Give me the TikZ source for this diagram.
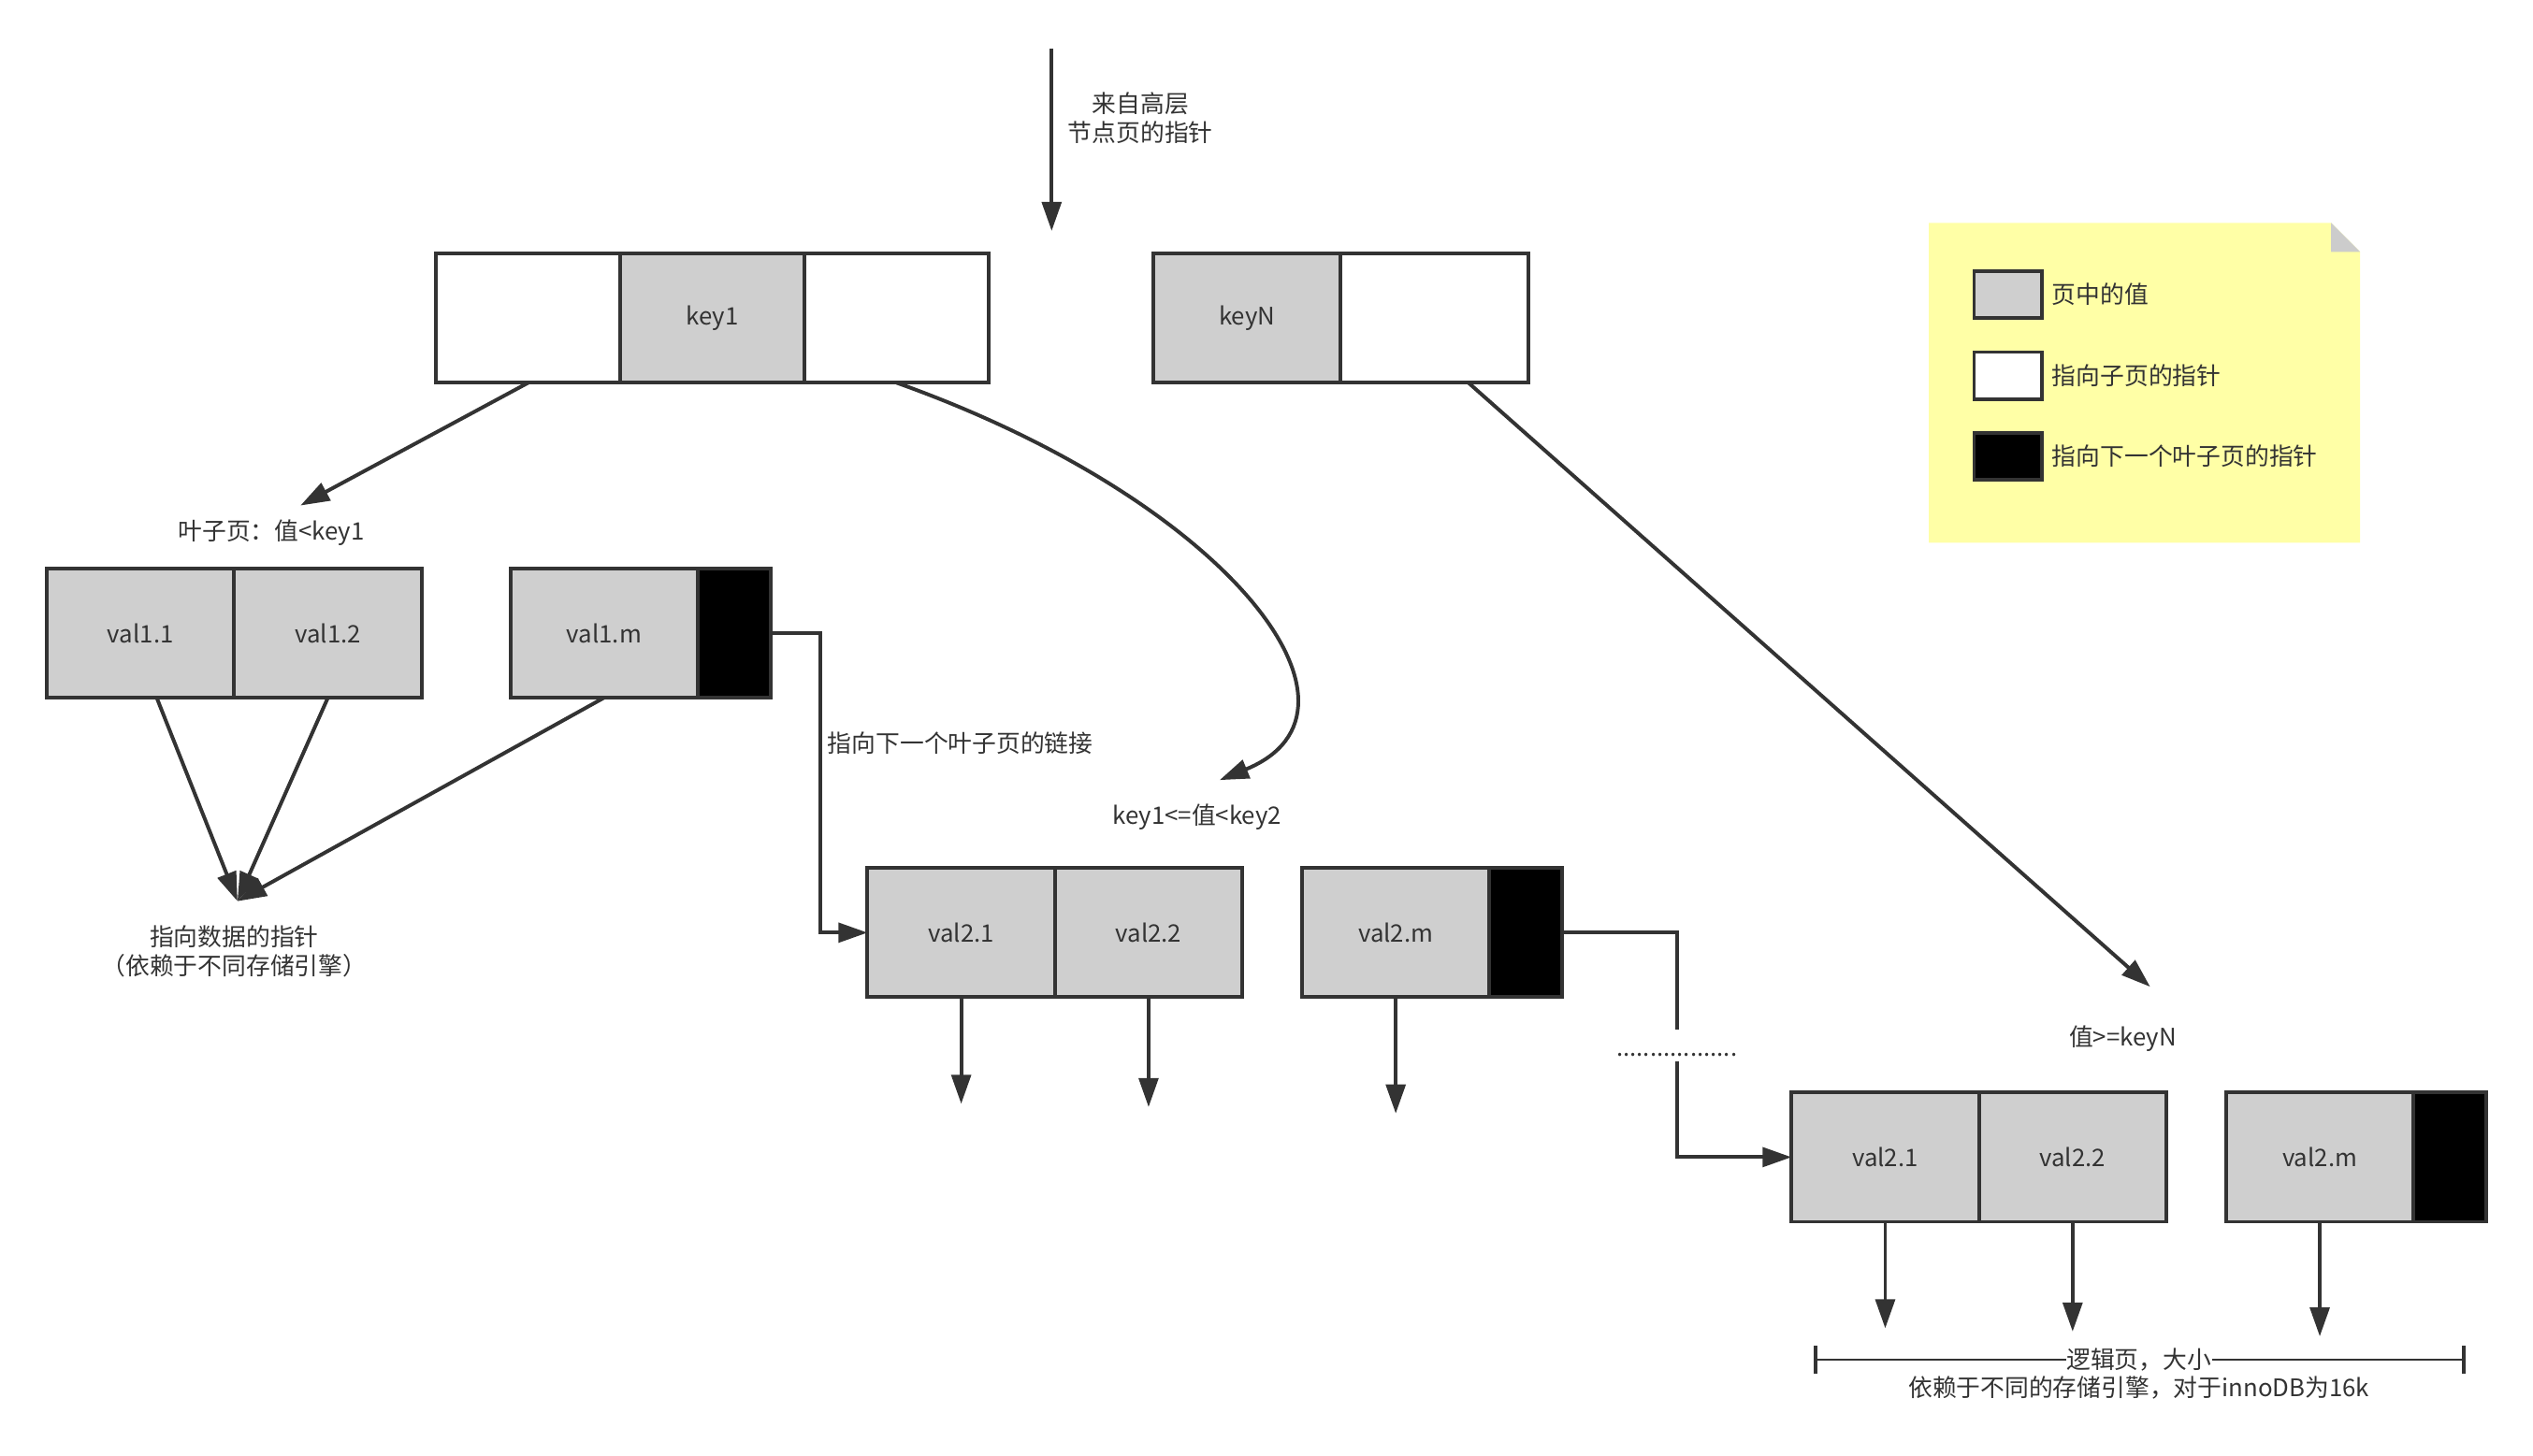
\documentclass[tikz,border=0pt]{standalone}
\usepackage{fontspec}
\setmainfont{Noto Sans CJK SC}
\usetikzlibrary{arrows.meta,positioning}
\definecolor{inkc}{HTML}{333333}
\definecolor{valgray}{HTML}{CFCFCF}
\definecolor{notey}{HTML}{FFFFA6}
\definecolor{foldg}{HTML}{CCCCCC}
\begin{document}
\begin{tikzpicture}[x=0.02cm,y=-0.02cm,
    font=\fontsize{8.5pt}{10.2pt}\selectfont,
    cell/.style={draw=inkc,line width=1.3pt,fill=valgray,text=inkc,
        minimum width=2.32cm,minimum height=1.6cm,inner sep=0pt,outer sep=0pt},
    ptr/.style={cell,fill=white},
    nxt/.style={cell,fill=black,minimum width=0.9cm},
    lgbox/.style={cell,minimum width=0.84cm,minimum height=0.58cm},
    lbl/.style={text=inkc,align=center,inner sep=0pt},
    conn/.style={draw=inkc,line width=1.3pt},
    arr/.style={conn,-{Triangle[length=0.36cm,width=0.24cm]}},
    dim/.style={draw=inkc,line width=0.5pt,{Bar[width=0.34cm,line width=1pt]}-}]
\useasboundingbox (0,0) rectangle (1568,901);

% Pointer from the upper level
\coordinate (hiS) at (651,30);
\coordinate (hiE) at (651,143);
\draw[arr] (hiS) -- (hiE);
\node[lbl] (hi) at (706,73) {来自高层\\节点页的指针};

% Non-leaf page
\node[ptr,minimum width=2.28cm] (k1L) at (327,197) {};
\node[cell,minimum width=2.28cm] (k1) at (441,197) {key1};
\node[ptr,minimum width=2.28cm] (k1R) at (555,197) {};
\node[cell] (kN) at (772,197) {keyN};
\node[ptr] (kNR) at (888,197) {};

% Legend (note)
\fill[notey] (1194,138) -- (1443,138) -- (1461,156) -- (1461,336) -- (1194,336) -- cycle;
\fill[foldg] (1443,138) -- (1443,156) -- (1461,156) -- cycle;
\node[lgbox] (lg1) at (1243,182.5) {};
\node[lgbox,fill=white] (lg2) at (1243,232.5) {};
\node[lgbox,fill=black] (lg3) at (1243,282.5) {};
\node[lbl,right=0.12cm of lg1] (lt1) {页中的值};
\node[lbl,right=0.12cm of lg2] (lt2) {指向子页的指针};
\node[lbl,right=0.12cm of lg3] (lt3) {指向下一个叶子页的指针};

% Leaf page 1
\node[cell] (v11) at (87,392) {val1.1};
\node[cell] (v12) at (203,392) {val1.2};
\node[cell] (v1m) at (374,392) {val1.m};
\node[nxt] (b1) at (454.5,392) {};

% Leaf page 2
\node[cell] (v21) at (595,577.5) {val2.1};
\node[cell] (v22) at (711,577.5) {val2.2};
\node[cell] (v2m) at (864,577.5) {val2.m};
\node[nxt] (b2) at (944.5,577.5) {};

% Leaf page N
\node[cell] (v31) at (1167,716.5) {val2.1};
\node[cell] (v32) at (1283,716.5) {val2.2};
\node[cell] (v3m) at (1436,716.5) {val2.m};
\node[nxt] (b3) at (1516.5,716.5) {};

% Child pointers with their ranges
\node[lbl] (l1) at (168,330) {叶子页：值<key1};
\coordinate (l1tip) at (186,313);
\draw[arr] (k1L.south) -- (l1tip);

\node[lbl] (l2) at (741,506) {key1<=值<key2};
\coordinate (l2tip) at (755,483);
\draw[arr] (k1R.south) .. controls (760,310) and (860,440) .. (l2tip);

\node[lbl] (l3) at (1314,643) {值>=keyN};
\coordinate (l3tip) at (1331,611);
\draw[arr] ([xshift=0.42cm]kNR.south) -- (l3tip);

% Pointers to the data
\node[lbl] (dp) at (145,589) {指向数据的指针\\（依赖于不同存储引擎）};
\coordinate (dptip) at (147,558);
\draw[arr] ([xshift=0.2cm]v11.south) -- (dptip);
\draw[arr] (v12.south) -- (dptip);
\draw[arr] (v1m.south) -- (dptip);

\foreach \n/\l in {v21/66,v22/68,v2m/72,v31/66,v32/68,v3m/71}
    \draw[arr] (\n.south) -- ++(0,\l) coordinate (\n-end);

% Links to the next leaf page
\node[lbl,anchor=west] (lk) at (512,460) {指向下一个叶子页的链接};
\draw[arr] (b1.east) -- ++(31,0) |- (v21.west);

\node[lbl,minimum height=0.6cm] (gap) at (1038,653) {..................};
\draw[conn] (b2.east) -| (gap.north);
\draw[arr] ([yshift=-0.08cm]gap.center) |- (v31.west);

% Page size
\node[lbl] (pg) at (1324,842) {逻辑页，大小};
\node[lbl] (pgn) at (1324,859) {依赖于不同的存储引擎，对于innoDB为16k};
\coordinate (pgL) at (1123,842);
\coordinate (pgR) at (1526,842);
\draw[dim] (pgL) -- (pg.west);
\draw[dim] (pgR) -- (pg.east);
\end{tikzpicture}
\end{document}
